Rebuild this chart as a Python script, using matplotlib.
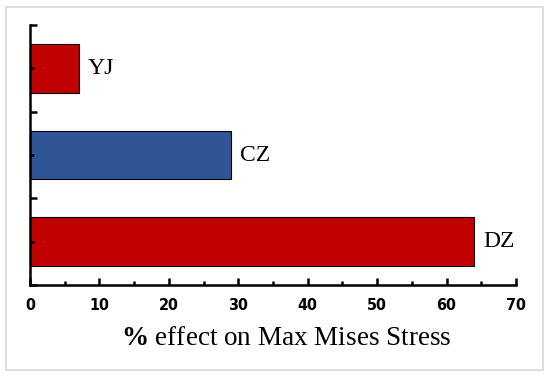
import matplotlib
matplotlib.use('Agg')
import matplotlib.pyplot as plt
import matplotlib.patches as patches
from matplotlib.ticker import MultipleLocator

categories = ['DZ', 'CZ', 'YJ']
values = [64, 29, 7]
colors = ['#C00000', '#2F5597', '#C00000']

plt.rcParams['mathtext.fontset'] = 'custom'
plt.rcParams['mathtext.rm'] = 'Liberation Serif'
plt.rcParams['mathtext.bf'] = 'Liberation Serif:bold'

fig = plt.figure(figsize=(5.5, 3.77), dpi=100)
ax = fig.add_axes([30 / 550, 1 - 285 / 377, 486 / 550, 260 / 377])

# light grey frame around the whole picture
fig.patches.append(patches.Rectangle((6 / 550, 1 - 370 / 377), 537 / 550, 363 / 377,
                                     transform=fig.transFigure, fill=False,
                                     edgecolor='#d9d9d9', linewidth=1.2))

ypos = range(len(categories))
ax.barh(ypos, values, height=0.56, color=colors, edgecolor='black', linewidth=0.8)
for y, v, name in zip(ypos, values, categories):
    ax.annotate(name, (v, y), xytext=(6.5, 0), textcoords='offset points',
                va='center', ha='left', fontsize=17, family='Liberation Serif')

ax.set_xlim(0, 70)
ax.set_ylim(-0.5, 2.5)
ax.xaxis.set_major_locator(MultipleLocator(10))
ax.xaxis.set_minor_locator(MultipleLocator(5))
ax.set_yticks([-0.5, 0.5, 1.5, 2.5])
ax.set_yticks([0, 1, 2], minor=True)
ax.set_yticklabels([])

for s in ['top', 'right']:
    ax.spines[s].set_visible(False)
for s in ['left', 'bottom']:
    ax.spines[s].set_linewidth(1.8)

ax.tick_params(axis='both', which='major', direction='in', length=5, width=1.8)
ax.tick_params(axis='both', which='minor', direction='in', length=3, width=1.8)
ax.tick_params(axis='x', which='major', pad=9)
for lbl in ax.get_xticklabels():
    lbl.set_fontweight('bold')
    lbl.set_fontsize(11.5)
    lbl.set_family('DejaVu Sans')
    lbl.set_fontstretch('condensed')

ax.set_xlabel(r'$\mathbf{\%}$ effect on Max Mises Stress', fontsize=19.5,
              family='Liberation Serif', labelpad=9.5)
ax.xaxis.label.set_x(0.527)

fig.savefig('out.png', dpi=100)
